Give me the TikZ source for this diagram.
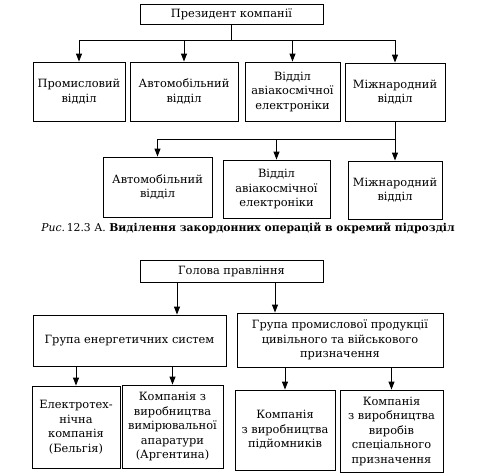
\documentclass[tikz,border=0pt]{standalone}
\usepackage{fontspec}
\setmainfont{DejaVu Serif}
\usetikzlibrary{arrows.meta}

\begin{document}
\begin{tikzpicture}[x=1pt, y=-1pt, line width=0.9pt, >={Triangle[length=8pt,width=6pt]},
	box/.style={draw, align=center, inner sep=0pt, font=\fontsize{11.4}{14.5}\selectfont}]
	\useasboundingbox (0,0) rectangle (483,475);
	%\draw[help lines] (0,0) grid[step=20] (483,475);
	% Puc. 12.3 A
	\node[box, minimum width=183pt, minimum height=20pt] (pres) at (231.5,14) {Президент компанії};
	\node[box, minimum width=92pt, minimum height=59pt] (d1) at (79,91.5) {Промисловий\\відділ};
	\node[box, minimum width=108pt, minimum height=59pt] (d2) at (184,91.5) {Автомобільний\\відділ};
	\node[box, minimum width=95pt, minimum height=59pt] (d3) at (292.5,91.5) {Відділ\\авіакосмічної\\електроніки};
	\node[box, minimum width=100pt, minimum height=58pt] (d4) at (395,92) {Міжнародний\\відділ};
	\node[box, minimum width=109pt, minimum height=60pt] (a1) at (157.5,187) {Автомобільний\\відділ};
	\node[box, minimum width=107pt, minimum height=58pt] (a2) at (276.5,189) {Відділ\\авіакосмічної\\електроніки};
	\node[box, minimum width=94pt, minimum height=58pt] (a3) at (395,190) {Міжнародний\\відділ};
	\coordinate (busA) at (0,40);
	\coordinate (busB) at (0,139);
	\draw (pres.south) -- (pres.south |- busA);
	\draw (d1.north |- busA) -- (d4.north |- busA);
	\foreach \n in {d1,d2,d3,d4}
		\draw[->] (\n.north |- busA) -- (\n.north);
	\draw (d4.south) -- (d4.south |- busB);
	\draw (a1.north |- busB) -- (a3.north |- busB);
	\foreach \n in {a1,a2,a3}
		\draw[->] (\n.north |- busB) -- (\n.north);
	\node[font=\fontsize{10.8}{13}\selectfont] (capA) at (248,228)
		{\textit{Рис.}\,12.3 А. \textbf{Виділення закордонних операцій в окремий підрозділ}};
	% Puc. 12.3 B
	\node[box, minimum width=183pt, minimum height=22pt] (gol) at (231.5,271) {Голова правління};
	\node[box, minimum width=193pt, minimum height=51pt] (g1) at (129.5,340.5) {Група енергетичних систем};
	\node[box, minimum width=206pt, minimum height=54pt] (g2) at (340,340) {Група промислової продукції\\цивільного та військового\\призначення};
	\node[box, minimum width=88pt, minimum height=82pt] (b1) at (76,427) {Електротех-\\нічна\\компанія\\(Бельгія)};
	\node[box, minimum width=101pt, minimum height=83pt] (b2) at (172.5,426.5) {Компанія з\\виробництва\\вимірювальної\\апаратури\\(Аргентина)};
	\node[box, minimum width=100pt, minimum height=80pt] (b3) at (285,430) {Компанія\\з виробництва\\підйомників};
	\node[box, minimum width=103pt, minimum height=82pt] (b4) at (391.5,431) {Компанія\\з виробництва\\виробів\\спеціального\\призначення};
	\draw[->] ([xshift=-54.5pt]gol.south) -- ([xshift=-54.5pt]gol.south |- g1.north);
	\draw[->] ([xshift=43.5pt]gol.south) -- ([xshift=43.5pt]gol.south |- g2.north);
	\foreach \n in {b1,b2}
		\draw[->] (\n.north |- g1.south) -- (\n.north);
	\foreach \n in {b3,b4}
		\draw[->] (\n.north |- g2.south) -- (\n.north);
\end{tikzpicture}
\end{document}
